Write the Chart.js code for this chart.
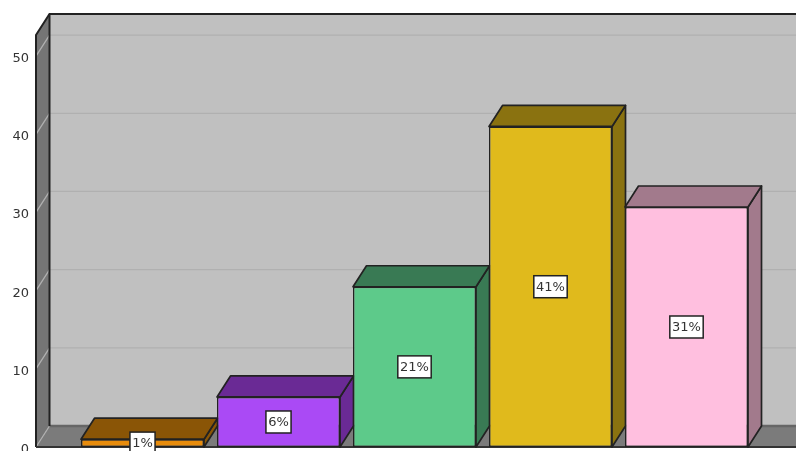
<!DOCTYPE html>
<html><head><meta charset="utf-8">
<style>html,body{margin:0;padding:0;background:#fff}canvas{display:block;filter:blur(.45px)}</style>
<script src="https://cdn.jsdelivr.net/npm/chart.js@4"></script>
</head><body><canvas id="c" width="796" height="451"></canvas>
<script>
const categories = ['A','B','C','D','E'];
const percentLabels = ['1%','6%','21%','41%','31%'];
const values = [1, 6.4, 20.5, 41, 30.7];
const frontColors = ['#e88c0c','#aa4af5','#5dca8a','#e0ba1c','#ffbfdf'];
const shadeColors = ['#8a5506','#6a2a95','#397a54','#8a7210','#a27a8c'];
const yTicks = [0,10,20,30,40,50];
const DX = 13.5, DY = 21;

const poly = (ctx, pts, fill, stroke, lw) => {
  ctx.beginPath();
  pts.forEach((p,i)=> i?ctx.lineTo(p[0],p[1]):ctx.moveTo(p[0],p[1]));
  ctx.closePath();
  if (fill){ctx.fillStyle=fill;ctx.fill();}
  if (stroke){ctx.strokeStyle=stroke;ctx.lineWidth=lw||1.5;ctx.lineJoin='round';ctx.stroke();}
};

const scene = {
  id:'scene',
  beforeDraw(chart){
    const y = chart.scales.y;
    if (!y._shifted){
      y.getLabelItems(chart.chartArea).forEach(it=>{it.options.translation[1]+=2.5;});
      y._shifted = true;
    }
  },
  beforeDatasetsDraw(chart){
    const {ctx, scales:{y}} = chart;
    const y0 = y.getPixelForValue(0), yT = y.top;
    const L = 36, R = 794;
    ctx.save();
    poly(ctx,[[L+DX,yT-DY],[R+DX+20,yT-DY],[R+DX+20,y0-DY],[L+DX,y0-DY]],'#c0c0c0');
    poly(ctx,[[L,y0],[L+DX,y0-DY],[R+DX+20,y0-DY],[R+20,y0]],'#7b7b7b');
    poly(ctx,[[L,yT],[L+DX,yT-DY],[L+DX,y0-DY],[L,y0]],'#757575');
    yTicks.forEach(v=>{
      const p = y.getPixelForValue(v);
      ctx.strokeStyle='#b0b0b0';ctx.lineWidth=1.3;
      ctx.beginPath();ctx.moveTo(L,p);ctx.lineTo(L+DX,p-DY);
      if(v>0)ctx.lineTo(R+20,p-DY);
      ctx.stroke();
    });
    ctx.strokeStyle='#666';ctx.lineWidth=2.5;
    ctx.beginPath();ctx.moveTo(L+DX,y0-DY);ctx.lineTo(R+DX+20,y0-DY);ctx.stroke();
    ctx.strokeStyle='#222';ctx.lineWidth=2;
    ctx.beginPath();ctx.moveTo(L,y0);ctx.lineTo(L,yT);ctx.lineTo(L+DX,yT-DY);ctx.lineTo(R+40,yT-DY);ctx.stroke();
    ctx.beginPath();ctx.moveTo(L+DX,yT-DY);ctx.lineTo(L+DX,y0-DY);ctx.stroke();
    ctx.strokeStyle='#333';ctx.lineWidth=2;
    ctx.beginPath();ctx.moveTo(L,y0);ctx.lineTo(796,y0);ctx.stroke();
    chart.getDatasetMeta(0).data.forEach((b,i)=>{
      const l=b.x-b.width/2, r=b.x+b.width/2, t=b.y, bot=y0;
      poly(ctx,[[r,t],[r+DX,t-DY],[r+DX,bot-DY],[r,bot]],shadeColors[i],'#222',1.7);
      poly(ctx,[[l,t],[l+DX,t-DY],[r+DX,t-DY],[r,t]],shadeColors[i],'#222',1.7);
    });
    ctx.restore();
  },
  afterDatasetsDraw(chart){
    const {ctx, scales:{y}} = chart;
    const y0 = y.getPixelForValue(0);
    ctx.save();
    ctx.font='13px "DejaVu Sans"';
    ctx.textAlign='center';ctx.textBaseline='middle';
    chart.getDatasetMeta(0).data.forEach((b,i)=>{
      const cy=(b.y+y0)/2, tw=ctx.measureText(percentLabels[i]).width, w=tw+4.5, h=22;
      ctx.fillStyle='#fff';ctx.strokeStyle='#222';ctx.lineWidth=1.5;
      ctx.fillRect(b.x-w/2,cy-h/2,w,h);ctx.strokeRect(b.x-w/2,cy-h/2,w,h);
      ctx.fillStyle='#333';ctx.fillText(percentLabels[i],b.x,cy+1);
    });
    ctx.restore();
  }
};

new Chart(document.getElementById('c'),{
  type:'bar',
  data:{labels:categories,datasets:[{
    data:values,backgroundColor:frontColors,borderColor:'#222',borderWidth:1.5,borderSkipped:false,
    categoryPercentage:1,barPercentage:123/136,clip:false
  }]},
  plugins:[scene],
  options:{
    responsive:false,animation:false,
    layout:{padding:{top:35,bottom:4,left:0,right:41.5}},
    plugins:{legend:{display:false},tooltip:{enabled:false},title:{display:false}},
    scales:{
      x:{display:false,offset:true},
      y:{min:0,max:52.7,position:'left',
        afterFit(s){s.width=74.5;s.paddingTop=0;s.paddingBottom=0;},
        grid:{display:false,drawTicks:false},border:{display:false},
        afterBuildTicks(s){s.ticks=yTicks.map(v=>({value:v}));},
        ticks:{padding:45.5,color:'#333',font:{family:'"DejaVu Sans"',size:13}}
      }
    }
  }
});
</script></body></html>
